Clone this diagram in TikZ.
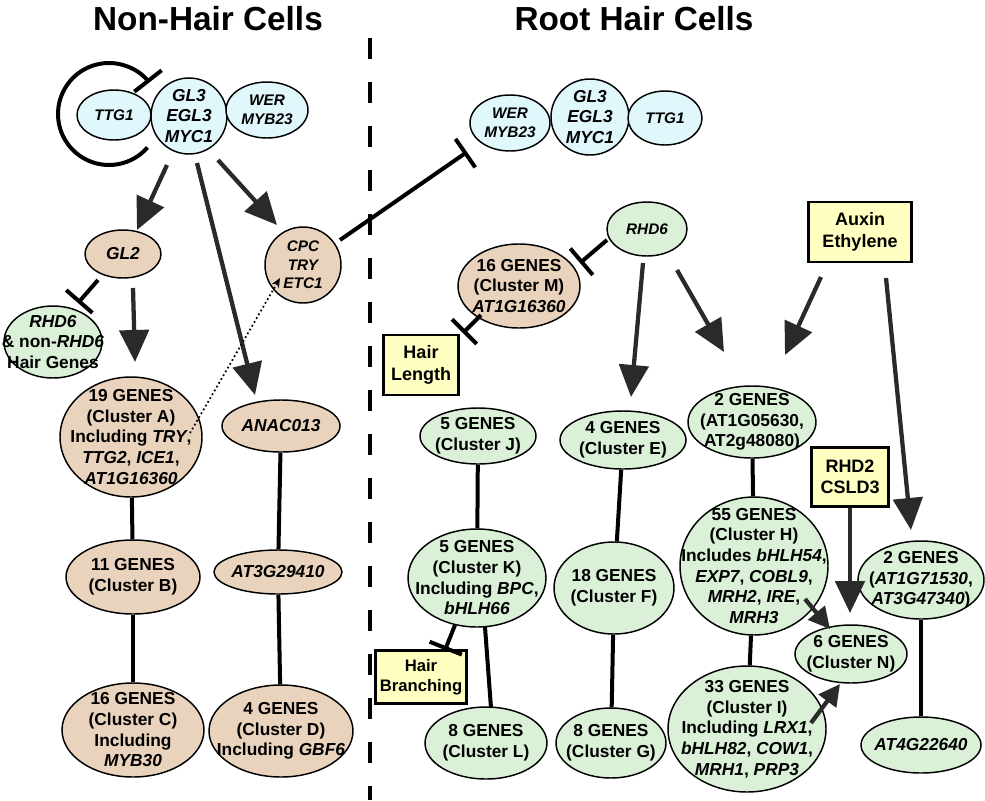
\documentclass[tikz,border=0pt]{standalone}
\usepackage{fontspec}
\setmainfont{Liberation Sans}
\usetikzlibrary{shapes.geometric,arrows.meta,calc}
\definecolor{cb}{HTML}{E0F8FB}
\definecolor{ct}{HTML}{E9D3BD}
\definecolor{cg}{HTML}{DAF1D8}
\definecolor{cy}{HTML}{FFFFC2}
\definecolor{ca}{HTML}{2A2A2A}
\begin{document}
\begin{tikzpicture}[x=0.75pt,y=-0.75pt,
  E/.style n args={4}{ellipse,draw,line width=1.1pt,fill=#3,minimum width=#1*1.5pt,minimum height=#2*1.5pt,inner sep=0pt,
     label={[align=center,font=\fontsize{13}{15.5}\selectfont\bfseries]center:#4}},
  Es/.style n args={4}{ellipse,draw,line width=1.1pt,fill=#3,minimum width=#1*1.5pt,minimum height=#2*1.5pt,inner sep=0pt,
     label={[align=center,font=\fontsize{11.5}{14}\selectfont\bfseries]center:#4}},
  B/.style={draw,line width=2.2pt,fill=cy,align=center,inner sep=0pt,font=\fontsize{13.5}{16}\selectfont\bfseries},
  ln/.style={line width=3pt},
  ar/.style={line width=3.2pt,draw=ca,-{Triangle[length=24pt,width=22pt]}},
  inh/.style={line width=3pt,-{Bar[width=26pt,line width=3pt]}},
  ttl/.style={font=\fontsize{25}{28}\selectfont\bfseries}]
\useasboundingbox (0,0) rectangle (985,800);
\node[ttl] (t1) at (208,19) {Non-Hair Cells};
\node[ttl] (t2) at (634,19) {Root Hair Cells};
\draw[line width=2.3pt,dash pattern=on 16pt off 17pt] (370,38) -- (370,800);
% left top
\node[Es={37}{25}{cb}{\itshape TTG1}] (ttgA) at (114,115) {};
\node[E={38}{38}{cb}{\itshape GL3\\\itshape EGL3\\\itshape MYC1}] (glA) at (189,116) {};
\node[Es={41}{28}{cb}{\itshape WER\\\itshape MYB23}] (werA) at (267,110) {};
\draw[line width=3pt,-{Bar[width=26pt,line width=3pt]}] ($(glA)+(-80,-2)$) ++(41:51) arc[start angle=41,end angle=322,radius=51];
\node[E={38}{24}{ct}{\itshape GL2}] (gl2) at (123,254) {};
\node[Es={38}{38}{ct}{\itshape CPC\\\itshape TRY\\\itshape ETC1}] (cpc) at (303,265) {};
\node[E={49}{36}{cg}{\itshape RHD6\\\upshape\& non-\textit{RHD6}\\\upshape Hair Genes}] (rhdA) at (53,342) {};
\node[E={71}{60}{ct}{19 GENES\\(Cluster A)\\Including \textit{TRY},\\\textit{TTG2}, \textit{ICE1},\\\textit{AT1G16360}}] (cA) at (131,437) {};
\node[E={59}{26}{ct}{\itshape ANAC013}] (anac) at (281,426) {};
\node[E={67}{37}{ct}{11 GENES\\(Cluster B)}] (cB) at (133,577) {};
\node[E={64}{22}{ct}{\itshape AT3G29410}] (at3) at (278,572) {};
\node[E={71}{47}{ct}{16 GENES\\(Cluster C)\\Including\\\textit{MYB30}}] (cC) at (133,730) {};
\node[E={72}{46}{ct}{4 GENES\\(Cluster D)\\Including \textit{GBF6}}] (cD) at (281,731) {};
\draw[ar] ($(glA)+(-22,49)$) -- ($(gl2)+(14,-24)$);
\draw[ar] ($(glA)+(8,47)$) -- ($(anac)+(-26,-31)$);
\draw[ar] ($(glA)+(29,44)$) -- ($(cpc)+(-26,-40)$);
\draw[inh] ($(gl2)+(-25,26)$) -- ($(rhdA)+(25,-39)$);
\draw[ar] ($(gl2)+(10,34)$) -- ($(cA)+(4,-75)$);
\draw[line width=1.3pt,dotted,-{Stealth[length=7pt,width=6pt]}] ($(cA)+(59,-4)$) -- ($(cpc)+(-23,13)$);
\draw[ln] (cA) -- (cB); \draw[ln] (cB) -- (cC);
\draw[ln] (anac) -- (at3); \draw[ln] (at3) -- (cD);
% right top
\node[Es={40}{28}{cb}{\itshape WER\\\itshape MYB23}] (werB) at (510,123) {};
\node[E={39}{38}{cb}{\itshape GL3\\\itshape EGL3\\\itshape MYC1}] (glB) at (590,117) {};
\node[Es={37}{27}{cb}{\itshape TTG1}] (ttgB) at (665,118) {};
\draw[inh] ($(cpc)+(37,-25)$) -- ($(werB)+(-43,29)$);
\node[Es={40}{27}{cg}{\itshape RHD6}] (rhd6) at (647,229) {};
\node[B,minimum width=77.25pt,minimum height=45pt] (aux) at (860,232) {Auxin\\Ethylene};
\node[E={61}{42}{ct}{16 GENES\\(Cluster M)\\\textit{AT1G16360}}] (cM) at (519,286) {};
\node[B,minimum width=56pt,minimum height=45pt] (hl) at (421,365) {Hair\\Length};
\draw[inh] ($(rhd6)+(-40,11)$) -- ($(cM)+(61,-23)$);
\draw[inh] ($(cM)+(-38,29)$) -- ($(hl)+(42,-32)$);
\node[E={58}{28}{cg}{5 GENES\\(Cluster J)}] (cJ) at (478,436) {};
\node[E={63}{29}{cg}{4 GENES\\(Cluster E)}] (cE) at (623,440) {};
\node[E={64}{36}{cg}{2 GENES\\(AT1G05630,\\AT2g48080)}] (c2a) at (752,422) {};
\node[B,minimum width=58pt,minimum height=44pt] (rhd2) at (850,477) {RHD2\\CSLD3};
\node[E={69}{49}{cg}{5 GENES\\(Cluster K)\\Including \textit{BPC},\\\textit{bHLH66}}] (cK) at (477,578) {};
\node[E={60}{46}{cg}{18 GENES\\(Cluster F)}] (cF) at (614,588) {};
\node[E={74}{69}{cg}{55 GENES\\(Cluster H)\\Includes \textit{bHLH54},\\\textit{EXP7}, \textit{COBL9},\\\textit{MRH2}, \textit{IRE},\\\textit{MRH3}}] (cH) at (754,566) {};
\node[E={63}{39}{cg}{2 GENES\\(\textit{AT1G71530},\\\textit{AT3G47340})}] (c2b) at (921,580) {};
\node[E={56}{29}{cg}{6 GENES\\(Cluster N)}] (cN) at (851,654) {};
\node[B,minimum width=68pt,minimum height=40pt,font=\fontsize{12.5}{15}\selectfont\bfseries] (hb) at (421,677) {Hair\\Branching};
\node[E={61}{36}{cg}{8 GENES\\(Cluster L)}] (cL) at (486,743) {};
\node[E={55}{35}{cg}{8 GENES\\(Cluster G)}] (cG) at (611,743) {};
\node[E={79}{63}{cg}{33 GENES\\(Cluster I)\\Including \textit{LRX1},\\\textit{bHLH82}, \textit{COW1},\\\textit{MRH1}, \textit{PRP3}}] (cI) at (747,729) {};
\node[E={60}{28}{cg}{\itshape AT4G22640}] (at4) at (921,745) {};
\draw[ar] ($(rhd6)+(-4,34)$) -- ($(cE)+(8,-43)$);
\draw[ar] ($(rhd6)+(30,41)$) -- ($(c2a)+(-28,-70)$);
\draw[ar] ($(aux)+(-39,45)$) -- ($(c2a)+(33,-67)$);
\draw[ar] ($(aux)+(26,46)$) -- ($(c2b)+(-10,-50)$);
\draw[ln] (cJ) -- (cK);
\draw[ln] ($(cK)+(8,49)$) -- ($(cL)+(5,-35)$);
\draw[inh] ($(cK)+(-22,47)$) -- ($(hb)+(24,-27)$);
\draw[ln] (cE) -- (cF); \draw[ln] (cF) -- (cG);
\draw[ln] (c2a) -- (cH); \draw[ln] (cH) -- (cI);
\draw[ln] (c2b) -- (at4);
\draw[ar] (rhd2.south) -- ($(cN)+(-1,-41)$);
\draw[ar,-{Triangle[length=16pt,width=16pt]}] ($(cH)+(51,33)$) -- ($(cN)+(-21,-25)$);
\draw[ar,-{Triangle[length=16pt,width=16pt]}] ($(cI)+(64,-6)$) -- ($(cN)+(-11,30)$);
\end{tikzpicture}
\end{document}
